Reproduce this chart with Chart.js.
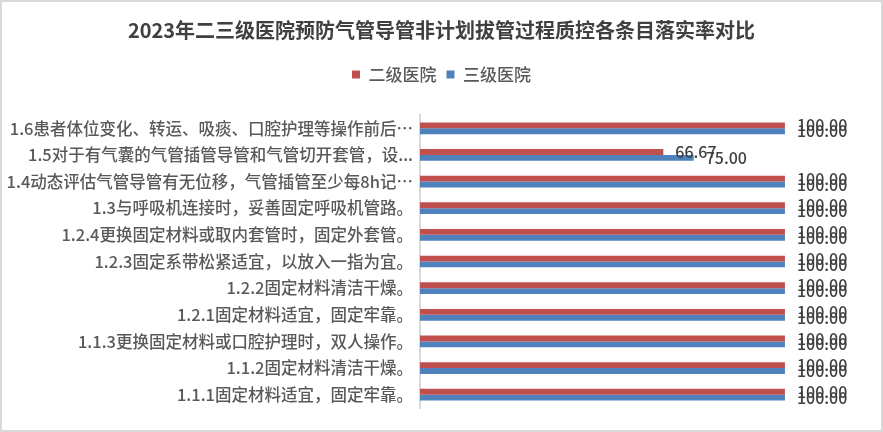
<!DOCTYPE html>
<html>
<head>
<meta charset="utf-8">
<script src="https://cdn.jsdelivr.net/npm/chart.js@4.4.1/dist/chart.umd.min.js"></script>
<style>
  html, body { margin: 0; padding: 0; background: #fff; }
  #wrap { width: 883px; height: 432px; }
</style>
</head>
<body>
<div id="wrap"><canvas id="myChart" width="883" height="432"></canvas></div>
<script>
// categories, top to bottom as shown
const categories = [
  '1.6患者体位变化、转运、吸痰、口腔护理等操作前后⋯',
  '1.5对于有气囊的气管插管导管和气管切开套管，设...',
  '1.4动态评估气管导管有无位移，气管插管至少每8h记⋯',
  '1.3与呼吸机连接时，妥善固定呼吸机管路。',
  '1.2.4更换固定材料或取内套管时，固定外套管。',
  '1.2.3固定系带松紧适宜，以放入一指为宜。',
  '1.2.2固定材料清洁干燥。',
  '1.2.1固定材料适宜，固定牢靠。',
  '1.1.3更换固定材料或口腔护理时，双人操作。',
  '1.1.2固定材料清洁干燥。',
  '1.1.1固定材料适宜，固定牢靠。'
];
const secondLevel = [100, 66.67, 100, 100, 100, 100, 100, 100, 100, 100, 100];
const thirdLevel  = [100, 75.00, 100, 100, 100, 100, 100, 100, 100, 100, 100];
const seriesNames = ['二级医院', '三级医院'];

const CJK = '"Noto Sans CJK SC", "Noto Sans", sans-serif';

// frame + white background
const framePlugin = {
  id: 'frame',
  beforeDraw(chart) {
    const c = chart.ctx;
    c.save();
    c.fillStyle = '#fff';
    c.fillRect(0, 0, chart.width, chart.height);
    c.strokeStyle = '#d9d9d9';
    c.lineWidth = 2;
    c.strokeRect(1, 1, chart.width - 2, chart.height - 2);
    c.restore();
  }
};

// value labels at bar end
const valueLabels = {
  id: 'valueLabels',
  afterDatasetsDraw(chart) {
    const c = chart.ctx;
    c.save();
    c.font = '500 16px ' + CJK;
    c.fillStyle = '#404040';
    c.textAlign = 'left';
    c.textBaseline = 'middle';
    chart.data.datasets.forEach((ds, i) => {
      chart.getDatasetMeta(i).data.forEach((bar, j) => {
        c.fillText(ds.data[j].toFixed(2), bar.x + 12, bar.y);
      });
    });
    c.restore();
  }
};

new Chart(document.getElementById('myChart'), {
  type: 'bar',
  data: {
    labels: categories,
    datasets: [
      { label: seriesNames[0], data: secondLevel, backgroundColor: '#C0504D' },
      { label: seriesNames[1], data: thirdLevel, backgroundColor: '#4F81BD' }
    ]
  },
  options: {
    indexAxis: 'y',
    responsive: false,
    animation: false,
    devicePixelRatio: 1,
    categoryPercentage: 0.44,
    barPercentage: 1.0,
    layout: { padding: { top: 4, left: 5, right: 5, bottom: 24 } },
    plugins: {
      title: {
        display: true,
        text: '2023年二三级医院预防气管导管非计划拔管过程质控各条目落实率对比',
        color: '#404040',
        font: { family: CJK, size: 20, weight: 'bold' },
        padding: { top: 14, bottom: 14 }
      },
      legend: {
        position: 'top',
        labels: {
          color: '#595959',
          font: { family: CJK, size: 17, weight: '500' },
          boxWidth: 8,
          boxHeight: 8,
          padding: 10
        }
      },
      tooltip: { enabled: false }
    },
    scales: {
      // hidden top axis keeps room under the legend; max leaves space for labels
      x: {
        position: 'top',
        min: 0,
        max: 125.5,
        grid: { display: false },
        border: { display: false },
        ticks: { display: false },
        afterFit(scale) { scale.height = 22; }
      },
      y: {
        grid: { display: false, drawTicks: false },
        border: { display: true, color: '#d9d9d9', width: 2 },
        ticks: {
          color: '#595959',
          font: { family: CJK, size: 16.5, weight: '500' },
          padding: 7,
          autoSkip: false
        },
        afterFit(scale) { scale.width = 415; }
      }
    }
  },
  plugins: [framePlugin, valueLabels]
});
</script>
</body>
</html>
